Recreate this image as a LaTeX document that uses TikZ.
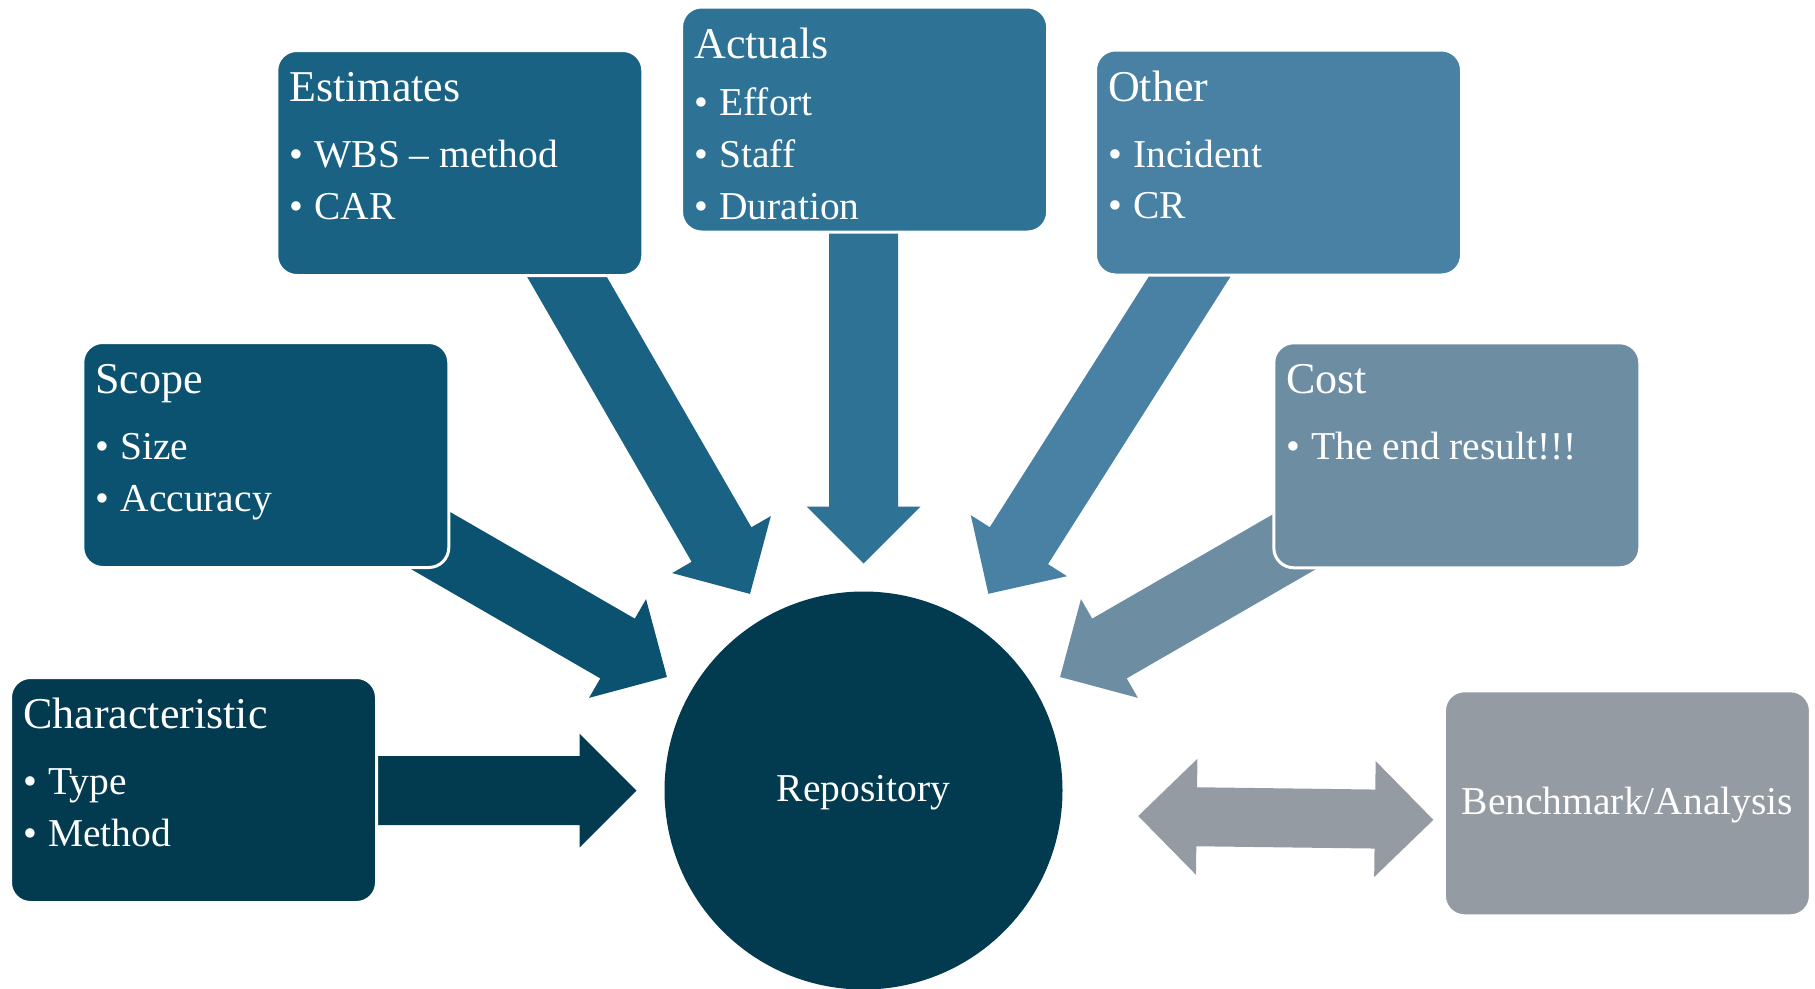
\documentclass[tikz,border=0pt]{standalone}
\usepackage{fontspec}
\setmainfont{Liberation Serif}
\usepackage{tikz}
\usetikzlibrary{calc,positioning}
\definecolor{RDeep}{HTML}{023B50}
\definecolor{RScope}{HTML}{0B5270}
\definecolor{REstim}{HTML}{1A6283}
\definecolor{RActual}{HTML}{2E7295}
\definecolor{ROther}{HTML}{4881A3}
\definecolor{RCost}{HTML}{6D8DA3}
\definecolor{RBench}{HTML}{959BA3}
% block arrow: colour, tail, tip, shaft half width, head half width, head length
\newcommand{\blockarrow}[6]{%
  \coordinate (ba-h) at ($(#3)!#6!(#2)$);
  \fill[#1] ($(#2)!#4!90:(#3)$) -- ($(ba-h)!#4!90:(#3)$)
    -- ($(ba-h)!#5!90:(#3)$) -- (#3) -- ($(ba-h)!#5!-90:(#3)$)
    -- ($(ba-h)!#4!-90:(#3)$) -- ($(#2)!#4!-90:(#3)$) -- cycle;}

\begin{document}
\begin{tikzpicture}[x=1pt,y=-1pt,
  box/.style={draw=white,line width=3pt,rounded corners=20pt,
    minimum width=366pt,minimum height=225pt,inner sep=0pt},
  title/.style={anchor=base west,inner sep=0pt,text=white,
    font=\fontsize{44}{50}\selectfont},
  item/.style={anchor=base west,inner sep=0pt,text=white,
    font=\fontsize{39.5}{46}\selectfont,
    execute at begin node={\makebox[25pt][l]{\textbullet}}},
  ctext/.style={text=white,font=\fontsize{39.5}{46}\selectfont}
]
  \useasboundingbox (0,0) rectangle (1815,988);

  \node[circle,fill=RDeep,minimum size=398pt,inner sep=0pt] (repo)
    at (863.5,790.5) {};
  \node[ctext,yshift=-2pt] (repoT) at (repo) {Repository};

  % arrows into the repository (drawn under the boxes)
  \coordinate (charTail) at ([shift={(180:520pt)}]repo.center);
  \coordinate (charTip) at ([shift={(180:227pt)}]repo.center);
  \coordinate (scopeTail) at ([shift={(150:540pt)}]repo.center);
  \coordinate (scopeTip) at ([shift={(150:227pt)}]repo.center);
  \coordinate (estimTail) at ([shift={(120:630pt)}]repo.center);
  \coordinate (estimTip) at ([shift={(120:227pt)}]repo.center);
  \coordinate (actualTail) at ([shift={(90:590pt)}]repo.center);
  \coordinate (actualTip) at ([shift={(90:227pt)}]repo.center);
  \coordinate (otherTail) at ([shift={(57.6:650pt)}]repo.center);
  \coordinate (otherTip) at ([shift={(57.6:233pt)}]repo.center);
  \coordinate (costTail) at ([shift={(30:540pt)}]repo.center);
  \coordinate (costTip) at ([shift={(30:227pt)}]repo.center);
  \blockarrow{RDeep}{charTail}{charTip}{34.5pt}{57pt}{57pt}
  \blockarrow{RScope}{scopeTail}{scopeTip}{34.5pt}{57pt}{57pt}
  \blockarrow{REstim}{estimTail}{estimTip}{34.5pt}{57pt}{57pt}
  \blockarrow{RActual}{actualTail}{actualTip}{34.5pt}{57pt}{57pt}
  \blockarrow{ROther}{otherTail}{otherTip}{34.5pt}{57pt}{57pt}
  \blockarrow{RCost}{costTail}{costTip}{34.5pt}{57pt}{57pt}

  % boxes
  \node[box,fill=RDeep] (char) at (193.5,790) {};
  \node[title] at ([xshift=14pt,yshift=-52.5pt]char.north west) {Characteristic};
  \node[item] at ([xshift=14pt,yshift=-118.5pt]char.north west) {Type};
  \node[item] at ([xshift=14pt,yshift=-170pt]char.north west) {Method};

  \node[box,fill=RScope] (scope) at (265.8,455) {};
  \node[title] at ([xshift=14pt,yshift=-52.5pt]scope.north west) {Scope};
  \node[item] at ([xshift=14pt,yshift=-118.5pt]scope.north west) {Size};
  \node[item] at ([xshift=14pt,yshift=-170pt]scope.north west) {Accuracy};

  \node[box,fill=REstim] (estim) at (459.8,163) {};
  \node[title] at ([xshift=14pt,yshift=-52.5pt]estim.north west) {Estimates};
  \node[item] at ([xshift=14pt,yshift=-118.5pt]estim.north west) {WBS -- method};
  \node[item] at ([xshift=14pt,yshift=-170pt]estim.north west) {CAR};

  \node[box,fill=RActual] (actual) at (864.6,119.5) {};
  \node[title] at ([xshift=14pt,yshift=-52.5pt]actual.north west) {Actuals};
  \node[item] at ([xshift=14pt,yshift=-110pt]actual.north west) {Effort};
  \node[item] at ([xshift=14pt,yshift=-162pt]actual.north west) {Staff};
  \node[item] at ([xshift=14pt,yshift=-214pt]actual.north west) {Duration};

  \node[box,fill=ROther] (other) at (1278.5,162.5) {};
  \node[title] at ([xshift=14pt,yshift=-52.5pt]other.north west) {Other};
  \node[item] at ([xshift=14pt,yshift=-118.5pt]other.north west) {Incident};
  \node[item] at ([xshift=14pt,yshift=-170pt]other.north west) {CR};

  \node[box,fill=RCost] (cost) at (1456.8,455.3) {};
  \node[title] at ([xshift=14pt,yshift=-52.5pt]cost.north west) {Cost};
  \node[item] at ([xshift=14pt,yshift=-118.5pt]cost.north west) {The end result!!!};

  \node[box,fill=RBench] (bench) at (1627.4,803.3) {};
  \node[ctext,yshift=-2pt] (benchT) at (bench) {Benchmark/Analysis};

  % two-way arrow between repository and benchmark
  \coordinate (dblL) at ([xshift=75.5pt,yshift=-25.5pt]repo.east);
  \coordinate (dblR) at ([xshift=-9.5pt,yshift=-16.5pt]bench.west);
  \coordinate (dblLh) at ($(dblL)!58.5pt!(dblR)$);
  \coordinate (dblRh) at ($(dblR)!58.5pt!(dblL)$);
  \fill[RBench] (dblL) -- ($(dblLh)!58pt!90:(dblR)$) -- ($(dblLh)!29.5pt!90:(dblR)$)
    -- ($(dblRh)!29.5pt!-90:(dblL)$) -- ($(dblRh)!58pt!-90:(dblL)$) -- (dblR)
    -- ($(dblRh)!58pt!90:(dblL)$) -- ($(dblRh)!29.5pt!90:(dblL)$)
    -- ($(dblLh)!29.5pt!-90:(dblR)$) -- ($(dblLh)!58pt!-90:(dblR)$) -- cycle;
\end{tikzpicture}
\end{document}
